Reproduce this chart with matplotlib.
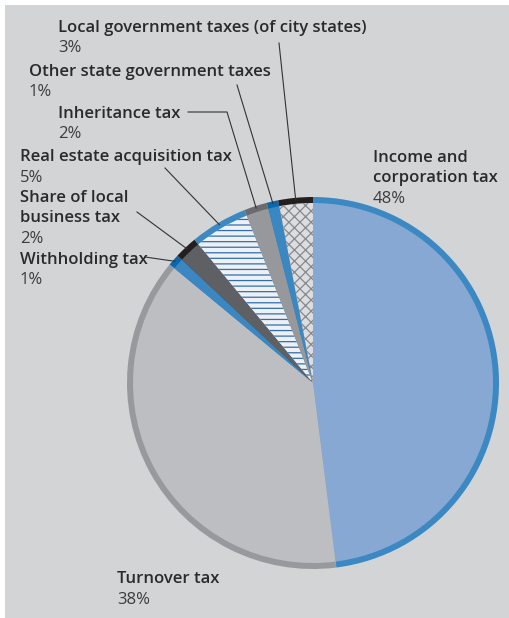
import numpy as np
import matplotlib.pyplot as plt
from matplotlib.patches import Rectangle

plt.rcParams['font.family'] = ['Open Sans', 'DejaVu Sans']
plt.rcParams['hatch.linewidth'] = 0.9

# tax revenue shares, clockwise from 12 o'clock
names = ["Income and\ncorporation tax", "Turnover tax", "Withholding tax",
         "Share of local\nbusiness tax", "Real estate acquisition tax",
         "Inheritance tax", "Other state government taxes",
         "Local government taxes (of city states)"]
shares = [48, 38, 1, 2, 5, 2, 1, 3]

fill_colors = ['#86a8d2', '#bdbec1', '#3a87c2', '#5f6063',
               '#eef0f4', '#97989b', '#3a87c2', '#dcdde0']
ring_colors = ['#3b88c3', '#98999c', '#0b67ab', '#231f20',
               '#3b88c3', '#6a6b6e', '#0b67ab', '#231f20']
hatches = [None, None, None, None, '---', None, None, 'xxx']
hatch_colors = [None, None, None, None, '#2f6fae', None, None, '#88898c']

# label layout in pixels: (x, first baseline from top)
label_pos = [(373, 162), (117, 583), (20, 264), (20, 202), (20, 161),
             (58, 118), (29, 76), (58, 32)]
# leader lines: list of start points (pixels from top), None = no line
leader_start = [None, None, [(145, 257)], [(137, 212)], [(165, 168)],
                [(188, 112), (227, 112)], [(237, 85)], [(279, 43)]]

W, H = 510, 618
cx, cy, R = 313, H - 383, 186
ring = 6
line_gap = 20.5

fig = plt.figure(figsize=(W / 100, H / 100), dpi=100)
ax = fig.add_axes([0, 0, 1, 1])
ax.add_patch(Rectangle((5, -5), W + 5, H, facecolor='#d3d4d6',
                       edgecolor='none', zorder=0))

outer, _ = ax.pie(shares, colors=ring_colors, radius=R, center=(cx, cy),
                  startangle=90, counterclock=False,
                  wedgeprops=dict(linewidth=0))
inner, _ = ax.pie(shares, colors=fill_colors, radius=R - ring, center=(cx, cy),
                  startangle=90, counterclock=False,
                  wedgeprops=dict(linewidth=0))
for w, h, hc in zip(inner, hatches, hatch_colors):
    if h:
        w.set_hatch(h)
        w.set_edgecolor(hc)

for w, name, share, pos, starts in zip(outer, names, shares, label_pos, leader_start):
    x, base = pos
    lines = name.split('\n')
    for i, ln in enumerate(lines):
        ax.text(x, H - (base + i * line_gap), ln, fontsize=12, fontweight='semibold',
                color='#2a2a2a', va='baseline', ha='left')
    ax.text(x, H - (base + len(lines) * line_gap), f'{share}%', fontsize=12,
            color='#3c3c3c', va='baseline', ha='left')
    if starts:
        mid = np.deg2rad((w.theta1 + w.theta2) / 2)
        end = (cx + (R - 2) * np.cos(mid), cy + (R - 2) * np.sin(mid))
        xs = [p[0] for p in starts] + [end[0]]
        ys = [H - p[1] for p in starts] + [end[1]]
        ax.plot(xs, ys, color='#333333', lw=0.8)

ax.set_xlim(0, W)
ax.set_ylim(0, H)
ax.set_aspect('auto')
ax.axis('off')
fig.savefig('out.png', dpi=100, facecolor='white')
